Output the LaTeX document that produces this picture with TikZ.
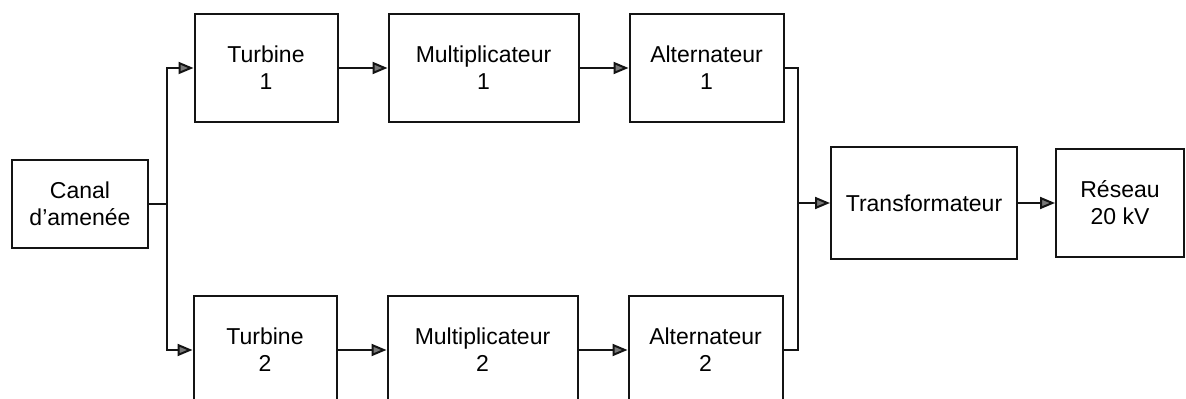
\documentclass[tikz,border=0pt]{standalone}
\usepackage{fontspec}
\setmainfont{Liberation Sans}
\usepackage{xcolor}
\usepackage{tikz}
\usetikzlibrary{arrows.meta,positioning}
\definecolor{hyedge}{RGB}{20,20,20}
\definecolor{hytip}{RGB}{120,120,120}
\tikzset{
  hybox/.style={
    draw=hyedge, line width=1pt, align=center, inner sep=2pt,
    font=\fontsize{11.5}{13.5}\selectfont, minimum height=54pt
  },
  turb/.style={hybox, minimum width=71.5pt},
  mult/.style={hybox, minimum width=95pt},
  alt/.style={hybox, minimum width=77pt},
  line/.style={draw=hyedge, line width=1pt},
  arr/.style={line, -{Triangle[length=7.5pt,width=6pt,fill=hytip]}}
}
\begin{document}
\begin{tikzpicture}[x=0.5pt, y=-0.5pt, node distance=24.5pt]
  \useasboundingbox (0,0) rectangle (1186,399);
  \clip (0,0) rectangle (1186,399);
  \node[hybox, minimum width=68pt, minimum height=44pt] (canal) at (80,204)
    {Canal\\d'amenée};
  \node[turb] (turb1) at (266,68) {Turbine\\1};
  \node[mult, right=of turb1] (mult1) {Multiplicateur\\1};
  \node[alt, right=of mult1] (alt1) {Alternateur\\1};
  \node[turb] (turb2) at (265,350) {Turbine\\2};
  \node[mult, right=of turb2] (mult2) {Multiplicateur\\2};
  \node[alt, right=of mult2] (alt2) {Alternateur\\2};
  \node[hybox, minimum width=93pt, minimum height=56pt] (transf) at (924,203)
    {Transformateur};
  \node[hybox, minimum width=64pt, right=18.5pt of transf] (reseau)
    {Réseau\\20 kV};
  \coordinate (split) at (167,204);
  \coordinate (merge) at (798,203);
  \draw[line] (canal.east) -- (split);
  \draw[arr] (split) |- (turb1.west);
  \draw[arr] (split) |- (turb2.west);
  \draw[arr] (turb1) -- (mult1);
  \draw[arr] (mult1) -- (alt1);
  \draw[arr] (turb2) -- (mult2);
  \draw[arr] (mult2) -- (alt2);
  \draw[line] (alt1.east) -| (merge) |- (alt2.east);
  \draw[arr] (merge) -- (transf.west);
  \draw[arr] (transf) -- (reseau);
\end{tikzpicture}
\end{document}
